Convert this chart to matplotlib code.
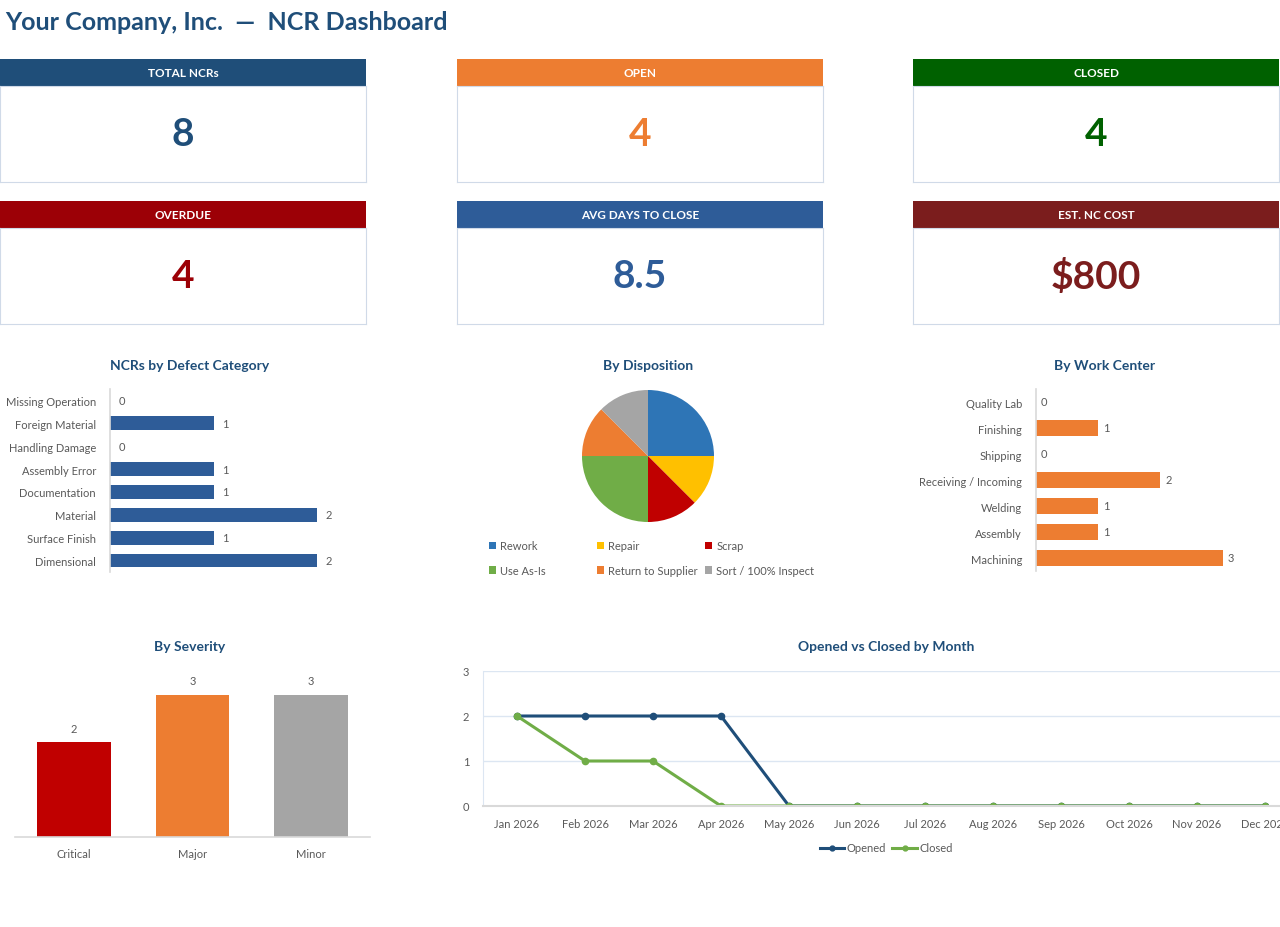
import numpy as np
import matplotlib
matplotlib.use("Agg")
import matplotlib.pyplot as plt
from matplotlib.lines import Line2D
from matplotlib.patches import Patch

plt.rcParams["font.family"] = ["Lato", "DejaVu Sans"]

W, H = 1280, 928
NAVY = "#1F4E79"
GREY_TXT = "#595959"

# --- data ---
kpi_titles = ["TOTAL NCRs", "OPEN", "CLOSED", "OVERDUE", "AVG DAYS TO CLOSE", "EST. NC COST"]
kpi_values = ["8", "4", "4", "4", "8.5", "$800"]
kpi_colors = ["#1F4E79", "#ED7D31", "#006100", "#9C0006", "#2E5C98", "#7B1D1D"]

defect_cats = ["Dimensional", "Surface Finish", "Material", "Documentation",
               "Assembly Error", "Handling Damage", "Foreign Material", "Missing Operation"]
defect_counts = [2, 1, 2, 1, 1, 0, 1, 0]

disp_labels = ["Rework", "Repair", "Scrap", "Use As-Is", "Return to Supplier", "Sort / 100% Inspect"]
disp_counts = [2, 1, 1, 2, 1, 1]
disp_colors = ["#2E75B6", "#FFC000", "#C00000", "#70AD47", "#ED7D31", "#A5A5A5"]

wc_cats = ["Machining", "Assembly", "Welding", "Receiving / Incoming", "Shipping", "Finishing", "Quality Lab"]
wc_counts = [3, 1, 1, 2, 0, 1, 0]

sev_cats = ["Critical", "Major", "Minor"]
sev_counts = [2, 3, 3]
sev_colors = ["#C00000", "#ED7D31", "#A5A5A5"]

months = ["Jan 2026", "Feb 2026", "Mar 2026", "Apr 2026", "May 2026", "Jun 2026",
          "Jul 2026", "Aug 2026", "Sep 2026", "Oct 2026", "Nov 2026", "Dec 2026"]
opened = [2, 2, 2, 2, 0, 0, 0, 0, 0, 0, 0, 0]
closed = [2, 1, 1, 0, 0, 0, 0, 0, 0, 0, 0, 0]


fig = plt.figure(figsize=(W / 100, H / 100), dpi=100)
fig.patch.set_facecolor("white")


def px_axes(x, y, w, h):
    return fig.add_axes([x / W, 1 - (y + h) / H, w / W, h / H])


def chart_title(x, y, s):
    fig.text(x / W, 1 - y / H, s, ha="center", va="center", fontsize=10,
             fontweight="bold", color=NAVY)


fig.text(5 / W, 1 - 22 / H, "Your Company, Inc.  \u2014  NCR Dashboard", ha="left",
         va="center", fontsize=18, fontweight="bold", color=NAVY)

# --- KPI cards ---
card_x = [0, 457, 913]
card_y = [60, 202]
for i, (t, v, c) in enumerate(zip(kpi_titles, kpi_values, kpi_colors)):
    x = card_x[i % 3]
    y = card_y[i // 3]
    hdr = px_axes(x, y, 366, 27)
    hdr.set_facecolor(c)
    hdr.set_xticks([])
    hdr.set_yticks([])
    for s in hdr.spines.values():
        s.set_visible(False)
    hdr.text(0.5, 0.5, t, ha="center", va="center", color="white", fontsize=8.5,
             fontweight="bold", transform=hdr.transAxes)
    body = px_axes(x, y + 27, 366, 96)
    body.set_xticks([])
    body.set_yticks([])
    for s in body.spines.values():
        s.set_color("#D0DAE8")
    body.text(0.5, 0.5, v, ha="center", va="center", color=c, fontsize=28,
              fontweight="bold", transform=body.transAxes)


def hbar(ax, cats, vals, color, xmax):
    y = np.arange(len(cats))
    ax.barh(y, vals, height=0.6, color=color)
    ax.set_yticks(y, cats)
    ax.set_ylim(-0.5, len(cats) - 0.5)
    ax.set_xlim(0, xmax)
    ax.set_xticks([])
    for s in ["top", "right", "bottom"]:
        ax.spines[s].set_visible(False)
    ax.spines["left"].set_color("#D9D9D9")
    ax.spines["left"].set_linewidth(1.2)
    ax.tick_params(axis="y", length=0, labelsize=8, labelcolor=GREY_TXT, pad=10)
    for yi, v in zip(y, vals):
        ax.text(v + 0.08, yi, str(v), va="center", ha="left", fontsize=8, color=GREY_TXT)


# --- defect category ---
chart_title(190, 366, "NCRs by Defect Category")
ax1 = px_axes(110, 390, 228, 183)
hbar(ax1, defect_cats, defect_counts, "#2E5C98", 2.2)

# --- disposition pie ---
chart_title(648, 366, "By Disposition")
ax2 = px_axes(582, 391, 132, 132)
ax2.pie(disp_counts, colors=disp_colors, startangle=90, counterclock=False,
        wedgeprops=dict(linewidth=0))
ax2.set_xlim(-1, 1)
ax2.set_ylim(-1, 1)
ax2.set_aspect("equal")
handles = [Patch(facecolor=c, label=l) for c, l in zip(disp_colors, disp_labels)]
# one small legend per column so the columns sit on an even grid
for j, lx in enumerate([489, 597, 705]):
    fig.legend(handles=[handles[j], handles[j + 3]], loc="upper left",
               bbox_to_anchor=(lx / W, 1 - 541 / H), ncol=1, frameon=False,
               fontsize=8, handlelength=0.6, handleheight=0.6, handletextpad=0.4,
               labelspacing=1.25, borderpad=0, borderaxespad=0, labelcolor=GREY_TXT)

# --- work center ---
chart_title(1105, 366, "By Work Center")
ax3 = px_axes(1036, 390, 224, 182)
hbar(ax3, wc_cats, wc_counts, "#ED7D31", 3.6)

# --- severity ---
chart_title(190, 647, "By Severity")
ax4 = px_axes(15, 672, 355, 166)
xs = np.arange(len(sev_cats))
ax4.bar(xs, sev_counts, width=0.62, color=sev_colors)
ax4.set_xlim(-0.5, 2.5)
ax4.set_ylim(0, 3.5)
ax4.set_xticks(xs, sev_cats)
ax4.set_yticks([])
for s in ["top", "right", "left"]:
    ax4.spines[s].set_visible(False)
ax4.spines["bottom"].set_color("#D9D9D9")
ax4.spines["bottom"].set_linewidth(1.2)
ax4.tick_params(axis="x", length=0, labelsize=8, labelcolor=GREY_TXT, pad=8)
for xi, v in zip(xs, sev_counts):
    ax4.text(xi, v + 0.18, str(v), ha="center", va="bottom", fontsize=8, color=GREY_TXT)

# --- opened vs closed ---
chart_title(886, 647, "Opened vs Closed by Month")
ax5 = px_axes(483, 672, 816, 135)
xm = np.arange(len(months))
ax5.plot(xm, opened, color="#1F4E79", lw=2.2, marker="o", ms=4.5, label="Opened")
ax5.plot(xm, closed, color="#70AD47", lw=2.2, marker="o", ms=4.5, label="Closed")
ax5.set_xlim(-0.5, 11.5)
ax5.set_ylim(0, 3)
ax5.set_yticks([0, 1, 2, 3])
ax5.set_xticks(xm, months)
ax5.grid(axis="y", color="#DCE6F2", lw=1)
ax5.set_axisbelow(True)
for s in ["top", "right"]:
    ax5.spines[s].set_visible(False)
ax5.spines["left"].set_color("#DCE6F2")
ax5.spines["bottom"].set_color("#D9D9D9")
ax5.spines["bottom"].set_linewidth(1.5)
ax5.tick_params(axis="both", length=0, labelsize=8, labelcolor=GREY_TXT)
ax5.tick_params(axis="x", pad=9)
ax5.tick_params(axis="y", pad=10)
fig.legend(handles=[Line2D([], [], color="#1F4E79", lw=2.2, marker="o", ms=3.5, label="Opened"),
                    Line2D([], [], color="#70AD47", lw=2.2, marker="o", ms=3.5, label="Closed")],
           loc="center", bbox_to_anchor=(886 / W, 1 - 849 / H), ncol=2, frameon=False,
           fontsize=8, handlelength=2.2, handletextpad=0.2, columnspacing=0.6,
           labelcolor=GREY_TXT)

fig.savefig("out.png", dpi=100)
